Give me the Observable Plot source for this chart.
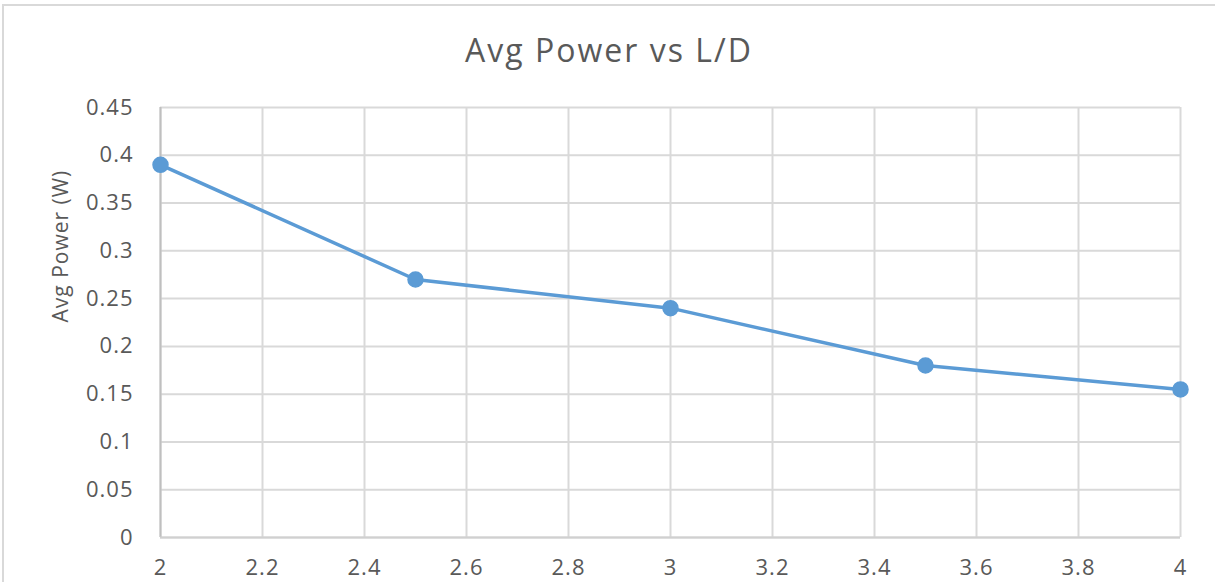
<!DOCTYPE html>
<html>
<head>
<meta charset="utf-8">
<script src="https://cdn.jsdelivr.net/npm/d3@7"></script>
<script src="https://cdn.jsdelivr.net/npm/@observablehq/plot@0.6"></script>
<style>
  html, body { margin: 0; padding: 0; background: #fff; width: 1215px; height: 582px; overflow: hidden; }
  #clip { position: absolute; left: 0; top: 0; width: 1215px; height: 582px; overflow: hidden; }
  #frame { position: absolute; left: 2px; top: 4px; width: 1300px; height: 700px; border-top: 2px solid #d9d9d9; border-left: 2px solid #d9d9d9; }
  #title { position: absolute; left: 0; width: 1218px; top: 30px; text-align: center; font-family: "Open Sans", sans-serif; font-size: 32px; letter-spacing: 2px; color: #595959; line-height: 40px; }
  #chart { position: absolute; left: 0; top: 0; }
</style>
</head>
<body>
<div id="clip">
<div id="frame"></div>
<div id="chart"></div>
<div id="title">Avg Power vs L/D</div>
</div>
<script>
const ld = [2, 2.5, 3, 3.5, 4];
const avgPower = [0.39, 0.27, 0.24, 0.18, 0.155];
const xTicks = [2, 2.2, 2.4, 2.6, 2.8, 3, 3.2, 3.4, 3.6, 3.8, 4];
const yTicks = [0, 0.05, 0.1, 0.15, 0.2, 0.25, 0.3, 0.35, 0.4, 0.45];
const yLabel = "Avg Power (W)";

const data = ld.map((x, i) => ({x, y: avgPower[i]}));
const fmt = d => String(+d.toFixed(2));

const chart = Plot.plot({
  width: 1215,
  height: 582,
  marginLeft: 160,
  marginRight: 35,
  marginTop: 107,
  marginBottom: 45,
  style: {fontFamily: "'Open Sans', sans-serif", fontSize: "22px", color: "#595959", background: "transparent", letterSpacing: "1px"},
  x: {domain: [2, 4]},
  y: {domain: [0, 0.45]},
  marks: [
    Plot.gridX(xTicks, {stroke: "#d9d9d9", strokeOpacity: 1, strokeWidth: 2}),
    Plot.gridY(yTicks, {stroke: "#d9d9d9", strokeOpacity: 1, strokeWidth: 2}),
    Plot.ruleX([2], {stroke: "#bfbfbf", strokeWidth: 2}),
    Plot.ruleY([0], {stroke: "#d0d0d0", strokeWidth: 2}),
    Plot.axisY({ticks: yTicks, tickSize: 0, tickPadding: 27, tickFormat: fmt, label: null, fontSize: 22}),
    Plot.axisX({ticks: xTicks, tickSize: 0, tickPadding: 22, tickFormat: fmt, label: null, fontSize: 22}),
    Plot.text([yLabel], {frameAnchor: "left", dx: -99, rotate: -90, fontSize: 21, fill: "#595959"}),
    Plot.line(data, {x: "x", y: "y", stroke: "#5b9bd5", strokeWidth: 3.5}),
    Plot.dot(data, {x: "x", y: "y", r: 7.5, fill: "#5b9bd5", stroke: "#5b9bd5"})
  ]
});
document.getElementById("chart").appendChild(chart);
</script>
</body>
</html>
